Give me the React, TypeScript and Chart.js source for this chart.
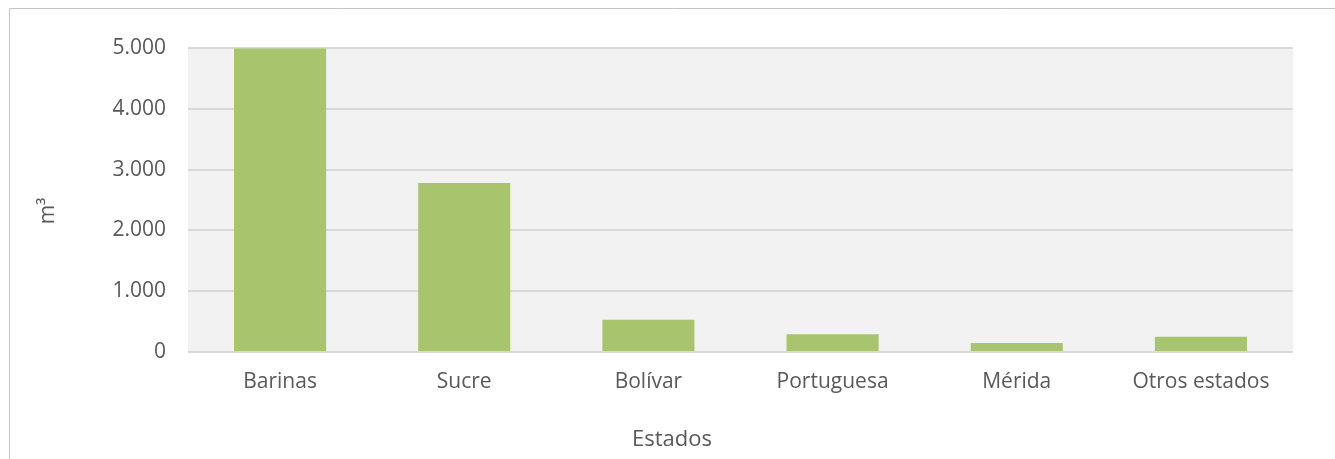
import React, { useEffect, useRef } from "react";
import { Chart, registerables } from "chart.js";

Chart.register(...registerables);

const categories = ["Barinas", "Sucre", "Bolívar", "Portuguesa", "Mérida", "Otros estados"];
const values = [4990, 2780, 530, 290, 150, 250];
const yTicks = [0, 1000, 2000, 3000, 4000, 5000];
const xTitle = "Estados";
const yTitle = "m³";

const FONT = "'Open Sans', sans-serif";
const TEXT = "#595959";

const fmt = (v: number) => String(v).replace(/\B(?=(\d{3})+(?!\d))/g, ".");

const framePlugin = {
  id: "frameAndBg",
  beforeDraw(chart: any) {
    const { ctx, chartArea } = chart;
    ctx.save();
    ctx.fillStyle = "#ffffff";
    ctx.fillRect(0, 0, chart.width, chart.height);
    ctx.fillStyle = "#f2f2f2";
    ctx.fillRect(chartArea.left, chartArea.top, chartArea.right - chartArea.left, chartArea.bottom - chartArea.top);
    ctx.strokeStyle = "#c4c4c4";
    ctx.lineWidth = 1;
    ctx.beginPath();
    ctx.moveTo(9.5, chart.height);
    ctx.lineTo(9.5, 8.5);
    ctx.lineTo(chart.width, 8.5);
    ctx.stroke();
    ctx.restore();
  },
  afterDraw(chart: any) {
    const { ctx, chartArea } = chart;
    ctx.save();
    ctx.fillStyle = TEXT;
    ctx.textAlign = "center";
    ctx.textBaseline = "middle";
    // x-axis title centred on the whole chart frame
    ctx.font = `22px ${FONT}`;
    ctx.fillText(xTitle, (9 + chart.width) / 2, 440);
    // y-axis title, rotated
    ctx.font = `21px ${FONT}`;
    ctx.translate(48, (chartArea.top + chartArea.bottom) / 2 + 11);
    ctx.rotate(-Math.PI / 2);
    ctx.fillText(yTitle, 0, 0);
    ctx.restore();
  },
};

export default function App() {
  const ref = useRef<HTMLCanvasElement | null>(null);
  useEffect(() => {
    if (!ref.current) return;
    const chart = new Chart(ref.current, {
      type: "bar",
      data: {
        labels: categories,
        datasets: [
          {
            data: values,
            backgroundColor: "#a8c46c",
            borderWidth: 0,
            barPercentage: 0.5,
            categoryPercentage: 1,
          },
        ],
      },
      options: {
        responsive: false,
        animation: false,
        layout: { padding: { top: 48, right: 42, left: 0, bottom: 32 } },
        plugins: {
          legend: { display: false },
          tooltip: { enabled: false },
          title: { display: false },
        },
        scales: {
          x: {
            grid: { display: false, drawTicks: false },
            border: { display: false },
            ticks: { color: TEXT, font: { family: FONT, size: 21 }, padding: 17 },
            afterFit: (s: any) => {
              s.height = 75;
            },
          },
          y: {
            min: 0,
            max: 5000,
            afterBuildTicks: (s: any) => {
              s.ticks = yTicks.map((v) => ({ value: v }));
            },
            grid: { color: "#d9d9d9", lineWidth: 2, drawTicks: false },
            border: { display: false },
            ticks: {
              color: TEXT,
              font: { family: FONT, size: 21 },
              padding: 22,
              callback: (v: any) => fmt(Number(v)),
            },
            afterFit: (s: any) => {
              s.width = 188;
            },
          },
        },
      },
      plugins: [framePlugin],
    });
    return () => chart.destroy();
  }, []);
  return (
    <div style={{ position: "absolute", left: 0, top: 0, width: 1335, height: 459 }}>
      <canvas ref={ref} width={1335} height={459} style={{ width: 1335, height: 459, display: "block" }} />
    </div>
  );
}
